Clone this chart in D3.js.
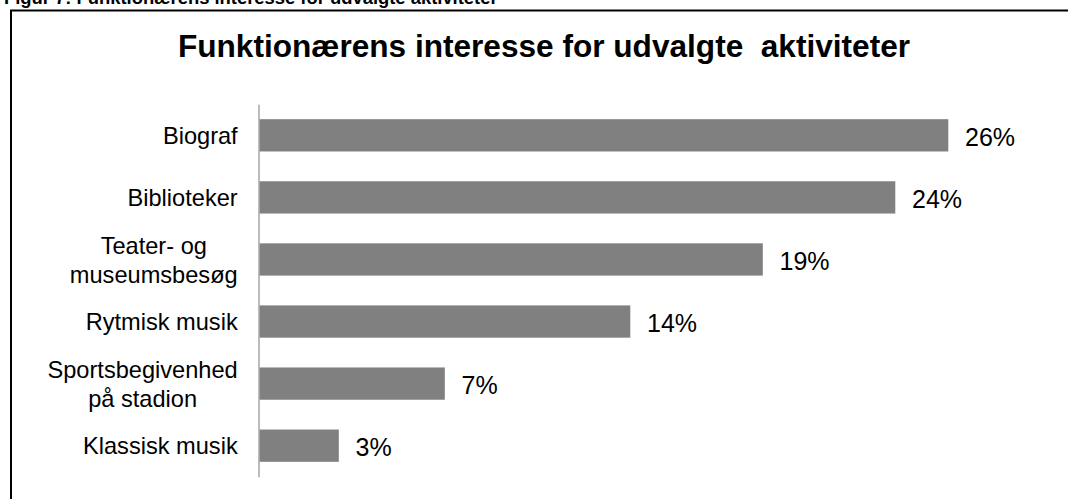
<!DOCTYPE html>
<html>
<head>
<meta charset="utf-8">
<script src="https://cdn.jsdelivr.net/npm/d3@7"></script>
<style>
  html, body { margin: 0; padding: 0; background: #fff; }
  svg { display: block; }
  text { font-family: "Liberation Sans", Arial, Helvetica, sans-serif; white-space: pre; }
</style>
</head>
<body>
<svg id="chart" width="1068" height="499"></svg>
<script>
// Activities (category lines are wrapped with "\n") and share of interest in percent
const categories = [
  "Biograf",
  "Biblioteker",
  "Teater- og\nmuseumsbesøg",
  "Rytmisk musik",
  "Sportsbegivenhed\npå stadion",
  "Klassisk musik"
];
const values = [26, 24, 19, 14, 7, 3];
const caption = "Figur 7: Funktionærens interesse for udvalgte aktiviteter";
const chartTitle = "Funktionærens interesse for udvalgte  aktiviteter";

const W = 1068, H = 499;
const svg = d3.select("#chart");

// Figure caption, partly cut off at the top edge
svg.append("text")
  .attr("x", 4).attr("y", 4)
  .attr("font-size", 18.4).attr("font-weight", "bold")
  .attr("fill", "#000")
  .text(caption);

// Chart frame (open to the right and bottom)
svg.append("path")
  .attr("d", `M11,${H + 2} L11,10.5 L${W + 2},10.5`)
  .attr("fill", "none").attr("stroke", "#000").attr("stroke-width", 2);

// Chart title
svg.append("text")
  .attr("x", 544).attr("y", 57.3)
  .attr("text-anchor", "middle")
  .attr("font-size", 31.6).attr("font-weight", "bold")
  .attr("fill", "#000")
  .text(chartTitle);

const x0 = 259.3;
const x = d3.scaleLinear().domain([0, 30]).range([x0, x0 + 30 * 26.5]);
const y = d3.scaleBand()
  .domain(categories)
  .range([104.3, 476.7])
  .paddingInner(0.48)
  .paddingOuter(0.24);

// Bars
svg.append("g").selectAll("rect")
  .data(categories)
  .join("rect")
  .attr("x", x(0))
  .attr("y", d => y(d))
  .attr("width", (d, i) => x(values[i]) - x(0))
  .attr("height", y.bandwidth())
  .attr("fill", "#808080");

// Category axis line
const yAxis = d3.axisLeft(y).tickSize(0).tickFormat("");
const axisG = svg.append("g")
  .attr("transform", "translate(258.5,0)")
  .call(yAxis);
axisG.select(".domain").attr("stroke", "#a6a6a6").attr("stroke-width", 1.5);

// Category labels: each block right-aligned, lines centered within the block
const labelRight = 237.7;
const catFont = 23.6, lineGap = 29;
svg.append("g").selectAll("text")
  .data(categories)
  .join("text")
  .attr("font-size", catFont)
  .attr("fill", "#000")
  .attr("text-anchor", "middle")
  .each(function (d) {
    const t = d3.select(this);
    const lines = d.split("\n");
    const cy = y(d) + y.bandwidth() / 2;
    const first = cy + 8.8 - (lines.length - 1) * lineGap / 2;
    lines.forEach((ln, k) => {
      t.append("tspan").attr("y", first + k * lineGap).text(ln);
    });
    let maxW = 0;
    t.selectAll("tspan").each(function () {
      maxW = Math.max(maxW, this.getComputedTextLength());
    });
    t.selectAll("tspan").attr("x", labelRight - maxW / 2);
  });

// Value labels
svg.append("g").selectAll("text")
  .data(categories)
  .join("text")
  .attr("x", (d, i) => x(values[i]) + 16.7)
  .attr("y", d => y(d) + y.bandwidth() / 2 + 10.5)
  .attr("font-size", 25)
  .attr("fill", "#000")
  .text((d, i) => values[i] + "%");
</script>
</body>
</html>
